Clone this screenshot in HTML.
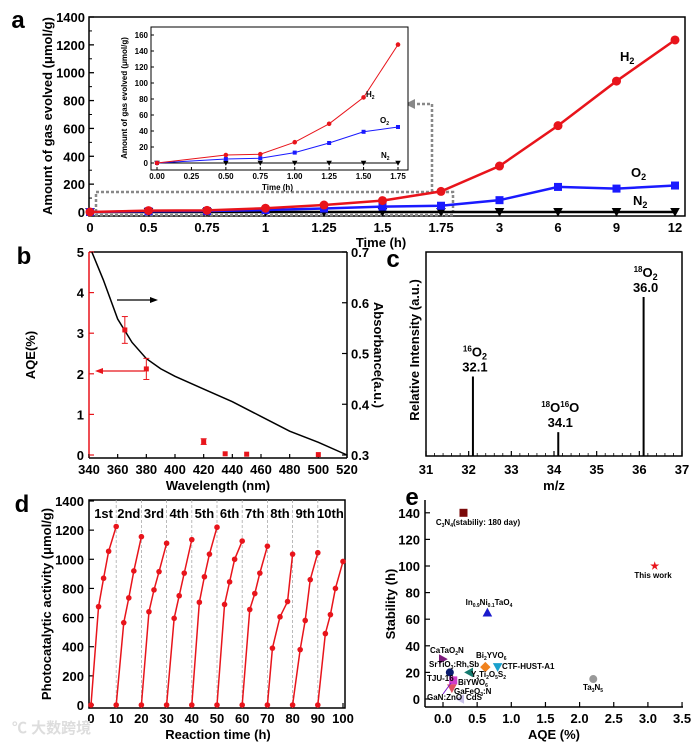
<!DOCTYPE html>
<html><head><meta charset="utf-8">
<style>
html,body{margin:0;padding:0;background:#fff;}
svg{display:block;font-family:"Liberation Sans","Noto Sans CJK SC",sans-serif;}
.t{font-weight:bold;font-size:13px;fill:#000;}
.s{font-weight:bold;font-size:8px;fill:#000;}
.pl{font-weight:bold;font-size:24px;fill:#000;}
</style></head>
<body>
<svg id="fig" width="692" height="743" viewBox="0 0 692 743" xmlns="http://www.w3.org/2000/svg">
<g id="ga"></g>
<g id="gb"></g>
<g id="gc"></g>
<g id="gd"></g>
<g id="ge"></g>
<text x="12" y="733" font-size="15" fill="#ddd" font-weight="bold">℃ 大数跨境</text>
</svg>
<script>
// ---------- data ----------
const aCats = ["0","0.5","0.75","1","1.25","1.5","1.75","3","6","9","12"];
const aH2 = [0,10,12,27,50,82,148,330,620,940,1235];
const aO2 = [0,5,7,14,25,39,45,85,180,168,190];
const aN2 = [0,0,0,0,0,0,0,0,0,0,0];
const aYTicks = [0,200,400,600,800,1000,1200,1400];
const inT = [0,0.5,0.75,1,1.25,1.5,1.75];
const inH2 = [0,10,11,26,49,82,148];
const inO2 = [0,5,6,13,25,39,45];
const inN2 = [0,0,0,0,0,0,0];
const inXTicks = [0,0.25,0.5,0.75,1,1.25,1.5,1.75];
const inYTicks = [0,20,40,60,80,100,120,140,160];
const bWave = [342,350,360,370,380,390,400,420,440,460,480,500,520];
const bAbs = [0.7,0.645,0.568,0.522,0.49,0.47,0.455,0.43,0.405,0.376,0.347,0.325,0.3];
const bAqeX = [365,380,420,435,450,500];
const bAqe = [3.08,2.12,0.33,0.03,0.02,0.01];
const bErr = [0.33,0.26,0.07,0,0,0];
const bXTicks = [340,360,380,400,420,440,460,480,500,520];
const bYTicks = [0,1,2,3,4,5];
const bAbsTicks = [0.3,0.4,0.5,0.6,0.7];
const cMz = [32.1,34.1,36.1];
const cInt = [0.5,0.15,1.0];
const cVals = ["32.1","34.1","36.0"];
const cXTicks = [31,32,33,34,35,36,37];
const dCycles = ["1st","2nd","3rd","4th","5th","6th","7th","8th","9th","10th"];
const dTimes = [[0,3,5,7,10],[10,13,15,17,20],[20,23,25,27,30],[30,33,35,37,40],[40,43,45,47,50],[50,53,55,57,60],[60,63,65,67,70],[70,72,75,78,80],[80,83,85,87,90],[90,93,95,97,100]];
const dVals = [[0,675,870,1055,1225],[0,565,735,920,1155],[0,640,790,915,1110],[0,595,750,905,1135],[0,705,880,1035,1220],[0,690,845,1000,1125],[0,655,765,905,1090],[0,390,605,710,1035],[0,380,580,860,1045],[0,490,620,800,985]];
const dXTicks = [0,10,20,30,40,50,60,70,80,90,100];
const dYTicks = [0,200,400,600,800,1000,1200,1400];
const eNames = ["C3N4","This work","In0.9Ni0.1TaO4","CaTaO2N","Bi2YVO6","CTF-HUST-A1","SrTiO3:Rh,Sb","Y2Ti2O5S2","Ta3N5","BiYWO6","GaFeO3:N","CdS"];
const eAqe = [0.3,3.1,0.65,0,0.62,0.8,0.1,0.38,2.2,0.15,0.13,0.25];
const eStab = [140,100,65,30,24,24,20,20,15,14,8,0];
const eXTicks = [0,0.5,1,1.5,2,2.5,3,3.5];
const eYTicks = [0,20,40,60,80,100,120,140];

// ---------- helpers ----------
const NS="http://www.w3.org/2000/svg";
function mk(p,tag,at,txt){const e=document.createElementNS(NS,tag);for(const k in at)e.setAttribute(k,at[k]);if(txt!==undefined)e.innerHTML=txt;p.appendChild(e);return e;}
function nm(e,n){


return e;}
function line(p,x1,y1,x2,y2,st,w,n,dash){const e=mk(p,'line',{x1,y1,x2,y2,stroke:st,'stroke-width':w||1});if(dash)e.setAttribute('stroke-dasharray',dash);return nm(e,n||'line');}
function txt(p,x,y,s,cls,anchor,n,extra){const e=mk(p,'text',Object.assign({x,y,class:cls,'text-anchor':anchor||'middle'},extra||{}),s);return nm(e,n||'label');}
function poly(p,pts,st,w,n){const e=mk(p,'polyline',{points:pts.map(q=>q.join(',')).join(' '),fill:'none',stroke:st,'stroke-width':w});return nm(e,n);}
function rect(p,x,y,w,h,n,st,sw){return nm(mk(p,'rect',{x,y,width:w,height:h,fill:'none',stroke:st||'#000','stroke-width':sw||1.5}),n);}
function marker(p,type,x,y,r,fill,n){let e;
 if(type==='c')e=mk(p,'circle',{cx:x,cy:y,r,fill});
 else if(type==='s')e=mk(p,'rect',{x:x-r,y:y-r,width:2*r,height:2*r,fill});
 else if(type==='tu')e=mk(p,'polygon',{points:`${x},${y-r*1.2} ${x-r*1.2},${y+r} ${x+r*1.2},${y+r}`,fill});
 else if(type==='td')e=mk(p,'polygon',{points:`${x},${y+r*1.2} ${x-r*1.2},${y-r} ${x+r*1.2},${y-r}`,fill});
 else if(type==='tl')e=mk(p,'polygon',{points:`${x-r*1.2},${y} ${x+r},${y-r*1.2} ${x+r},${y+r*1.2}`,fill});
 else if(type==='tr')e=mk(p,'polygon',{points:`${x+r*1.2},${y} ${x-r},${y-r*1.2} ${x-r},${y+r*1.2}`,fill});
 else if(type==='d')e=mk(p,'polygon',{points:`${x},${y-r*1.3} ${x+r*1.3},${y} ${x},${y+r*1.3} ${x-r*1.3},${y}`,fill});
 else if(type==='star'){let pts=[];for(let i=0;i<10;i++){const rr=i%2?r*0.45:r*1.2;const a=-Math.PI/2+i*Math.PI/5;pts.push((x+rr*Math.cos(a)).toFixed(1)+','+(y+rr*Math.sin(a)).toFixed(1));}e=mk(p,'polygon',{points:pts.join(' '),fill});}
 return nm(e,n);}

// ---------- panel a ----------
(function(){
const g=document.getElementById('ga');
const xa=i=>90+i*58.5, ya=v=>212-v*(195/1400);
txt(g,18,28,'a','pl','middle','panel-a-letter');
rect(g,89,17,596,199,'panel-a-frame');
aYTicks.forEach(v=>{line(g,89,ya(v),94,ya(v),'#000',1.3,'y-tick');txt(g,85,ya(v)+5,v,'t','end','y-tick-label',{'font-size':'12'});});
aYTicks.slice(0,-1).forEach(v=>line(g,89,ya(v+100),92,ya(v+100),'#000',1,'y-minor-tick'));
aCats.forEach((c,i)=>{line(g,xa(i),216,xa(i),211,'#000',1.3,'x-tick');txt(g,xa(i),232,c,'t','middle','x-tick-label');});
txt(g,381,247,'Time (h)','t','middle','x-axis-title');
txt(g,0,0,'Amount of gas evolved (μmol/g)','t','middle','y-axis-title',{transform:'translate(52,116) rotate(-90)','font-size':'14'});
// dashed box and arrow
nm(mk(g,'rect',{x:96,y:192,width:357,height:23,fill:'none',stroke:'#888','stroke-width':2.5,'stroke-dasharray':'3,2'}),'zoom-region-box');
nm(mk(g,'polyline',{points:'432,192 432,104 416,104',fill:'none',stroke:'#888','stroke-width':2.5,'stroke-dasharray':'3,2'}),'zoom-arrow');
nm(mk(g,'polygon',{points:'405,104 415,99 415,109',fill:'#888'}),'zoom-arrowhead');
// series
poly(g,aN2.map((v,i)=>[xa(i),ya(v)]),'#000',2.5,'n2-line');
aN2.forEach((v,i)=>marker(g,'td',xa(i),ya(v),4,'#000','n2-point'));
poly(g,aO2.map((v,i)=>[xa(i),ya(v)]),'#1a1aff',2.5,'o2-line');
aO2.forEach((v,i)=>marker(g,'s',xa(i),ya(v),4,'#1a1aff','o2-point'));
poly(g,aH2.map((v,i)=>[xa(i),ya(v)]),'#e8141b',2.5,'h2-line');
aH2.forEach((v,i)=>marker(g,'c',xa(i),ya(v),4.5,'#e8141b','h2-point'));
txt(g,620,61,'H<tspan font-size="9" dy="3">2</tspan>','t','start','h2-label',{'font-size':'14'});
txt(g,631,177,'O<tspan font-size="9" dy="3">2</tspan>','t','start','o2-label',{'font-size':'14'});
txt(g,633,205,'N<tspan font-size="9" dy="3">2</tspan>','t','start','n2-label',{'font-size':'14'});
// inset
const xi=t=>157+t*(241/1.75), yi=v=>163-v*(128/160);
nm(mk(g,'rect',{x:151,y:27,width:257,height:143,fill:'#fff',stroke:'#000','stroke-width':1}),'inset-frame');
inYTicks.forEach(v=>{line(g,151,yi(v),154,yi(v),'#000',1,'inset-y-tick');txt(g,148,yi(v)+3,v,'s','end','inset-y-tick-label');});
inXTicks.forEach(t=>{line(g,xi(t),170,xi(t),167,'#000',1,'inset-x-tick');txt(g,xi(t),179,t.toFixed(2),'s','middle','inset-x-tick-label');});
txt(g,xi(0.875),190,'Time (h)','s','middle','inset-x-axis-title',{'font-size':'9'});
txt(g,0,0,'Amount of gas evolved (μmol/g)','s','middle','inset-y-axis-title',{transform:'translate(127,98) rotate(-90)','font-size':'9'});
poly(g,inN2.map((v,i)=>[xi(inT[i]),yi(v)]),'#000',1,'inset-n2-line');
inN2.forEach((v,i)=>marker(g,'td',xi(inT[i]),yi(v),2.3,'#000','inset-n2-point'));
poly(g,inO2.map((v,i)=>[xi(inT[i]),yi(v)]),'#1a1aff',1,'inset-o2-line');
inO2.forEach((v,i)=>marker(g,'s',xi(inT[i]),yi(v),2,'#1a1aff','inset-o2-point'));
poly(g,inH2.map((v,i)=>[xi(inT[i]),yi(v)]),'#e8141b',1,'inset-h2-line');
inH2.forEach((v,i)=>marker(g,'c',xi(inT[i]),yi(v),2.3,'#e8141b','inset-h2-point'));
txt(g,366,97,'H<tspan font-size="5" dy="2">2</tspan>','s','start','inset-h2-label');
txt(g,380,123,'O<tspan font-size="5" dy="2">2</tspan>','s','start','inset-o2-label');
txt(g,381,158,'N<tspan font-size="5" dy="2">2</tspan>','s','start','inset-n2-label');
})();

// ---------- panel b ----------
(function(){
const g=document.getElementById('gb');
const xb=w=>89+(w-340)*(258/180), yb=a=>455-a*(203/5), yab=v=>455-(v-0.3)*(203/0.4);
txt(g,24,264,'b','pl','middle','panel-b-letter');
line(g,89,252,347,252,'#000',1.5,'top-axis');
line(g,89,458,347,458,'#000',1.5,'x-axis');
line(g,347,252,347,458,'#000',1.5,'right-axis');
line(g,89,252,89,458,'#e8141b',1.5,'left-axis');
bXTicks.forEach(w=>{line(g,xb(w),458,xb(w),454,'#000',1.2,'x-tick');txt(g,xb(w),474,w,'t','middle','x-tick-label');});
bYTicks.forEach(a=>{line(g,89,yb(a),94,yb(a),'#e8141b',1.2,'aqe-tick');txt(g,84,yb(a)+5,a,'t','end','aqe-tick-label',{fill:'#e8141b'});});
bAbsTicks.forEach(v=>{line(g,347,yab(v),342,yab(v),'#000',1.2,'abs-tick');txt(g,351,yab(v)+5,v.toFixed(1),'t','start','abs-tick-label');});
txt(g,218,490,'Wavelength (nm)','t','middle','x-axis-title',{'font-size':'14'});
txt(g,0,0,'AQE(%)','t','middle','aqe-axis-title',{transform:'translate(35,355) rotate(-90)','font-size':'15',fill:'#e8141b'});
txt(g,0,0,'Absorbance(a.u.)','t','middle','abs-axis-title',{transform:'translate(374,355) rotate(90)','font-size':'14'});
poly(g,bWave.map((w,i)=>[xb(w),yab(bAbs[i])]),'#000',1.5,'absorbance-curve');
bAqeX.forEach((w,i)=>{const x=xb(w);
 if(bErr[i]>0){line(g,x,yb(bAqe[i]+bErr[i]),x,yb(bAqe[i]-bErr[i]),'#e8141b',1,'error-bar');
  line(g,x-3,yb(bAqe[i]+bErr[i]),x+3,yb(bAqe[i]+bErr[i]),'#e8141b',1,'error-cap');
  line(g,x-3,yb(bAqe[i]-bErr[i]),x+3,yb(bAqe[i]-bErr[i]),'#e8141b',1,'error-cap');}
 marker(g,'s',x,yb(bAqe[i]),2.5,'#e8141b','aqe-point');});
line(g,117,300,152,300,'#000',1.3,'abs-arrow');
nm(mk(g,'polygon',{points:'158,300 150,297 150,303',fill:'#000'}),'abs-arrowhead');
line(g,101,371,145,371,'#e8141b',1.3,'aqe-arrow');
nm(mk(g,'polygon',{points:'95,371 103,368 103,374',fill:'#e8141b'}),'aqe-arrowhead');
})();

// ---------- panel c ----------
(function(){
const g=document.getElementById('gc');
const xc=m=>426+(m-31)*(256/6), yc=v=>456-v*159;
txt(g,393,267,'c','pl','middle','panel-c-letter');
rect(g,426,252,256,204,'panel-c-frame');
cXTicks.forEach(m=>{line(g,xc(m),456,xc(m),451,'#000',1.2,'x-tick');txt(g,xc(m),474,m,'t','middle','x-tick-label');});
cXTicks.slice(0,-1).forEach(m=>{for(let k=1;k<5;k++)line(g,xc(m+k/5),456,xc(m+k/5),453,'#000',0.8,'x-minor-tick');});
txt(g,554,490,'m/z','t','middle','x-axis-title',{'font-size':'14'});
txt(g,0,0,'Relative Intensity (a.u.)','t','middle','y-axis-title',{transform:'translate(419,350) rotate(-90)','font-size':'14'});
const labs=['<tspan font-size="8" dy="-5">16</tspan><tspan dy="5">O</tspan><tspan font-size="9" dy="3">2</tspan>','<tspan font-size="8" dy="-5">18</tspan><tspan dy="5">O</tspan><tspan font-size="8" dy="-5">16</tspan><tspan dy="5">O</tspan>','<tspan font-size="8" dy="-5">18</tspan><tspan dy="5">O</tspan><tspan font-size="9" dy="3">2</tspan>'];
cMz.forEach((m,i)=>{const x=xc(m),y=yc(cInt[i]);
 line(g,x,456,x,y,'#000',2,'peak-'+cVals[i]);
 txt(g,x+2,y-5,cVals[i],'t','middle','peak-value');
 txt(g,x+2,y-20,labs[i],'t','middle','peak-species',{fill:'#e8141b','font-size':'14'});});
})();

// ---------- panel d ----------
(function(){
const g=document.getElementById('gd');
const xd=t=>91+t*2.52, yd=v=>705-v*(204/1400);
txt(g,22,512,'d','pl','middle','panel-d-letter');
rect(g,89,500,256,208,'panel-d-frame');
dYTicks.forEach(v=>{line(g,89,yd(v),94,yd(v),'#000',1.2,'y-tick');txt(g,84,yd(v)+5,v,'t','end','y-tick-label');});
dXTicks.forEach(t=>{line(g,xd(t),708,xd(t),703,'#000',1.2,'x-tick');txt(g,xd(t),723,t,'t','middle','x-tick-label');});
dXTicks.slice(1,-1).forEach(t=>line(g,xd(t),500,xd(t),708,'#aaa',0.8,'cycle-divider','3,2'));
txt(g,218,739,'Reaction time (h)','t','middle','x-axis-title',{'font-size':'14'});
txt(g,0,0,'Photocatalytic activity (μmol/g)','t','middle','y-axis-title',{transform:'translate(51,604) rotate(-90)','font-size':'14'});
dCycles.forEach((c,k)=>{
 txt(g,xd(k*10+5),518,c,'t','middle','cycle-label');
 poly(g,dTimes[k].map((t,i)=>[xd(t),yd(dVals[k][i])]),'#e8141b',1.5,'cycle-line-'+(k+1));
 dTimes[k].forEach((t,i)=>marker(g,'c',xd(t),yd(dVals[k][i]),2.8,'#e8141b','cycle-point'));
});
})();

// ---------- panel e ----------
(function(){
const g=document.getElementById('ge');
const xe=a=>443+a*68.3, ye=s=>699-s*1.33;
txt(g,412,505,'e','pl','middle','panel-e-letter');
line(g,425,500,425,707,'#000',1.5,'y-axis');
line(g,425,707,683,707,'#000',1.5,'x-axis');
eYTicks.forEach(s=>{line(g,425,ye(s),430,ye(s),'#000',1.2,'y-tick');txt(g,420,ye(s)+5,s,'t','end','y-tick-label');});
eXTicks.forEach(a=>{line(g,xe(a),707,xe(a),702,'#000',1.2,'x-tick');txt(g,xe(a),723,a.toFixed(1),'t','middle','x-tick-label');});
txt(g,554,739,'AQE (%)','t','middle','x-axis-title',{'font-size':'14'});
txt(g,0,0,'Stability (h)','t','middle','y-axis-title',{transform:'translate(395,604) rotate(-90)','font-size':'14'});
const styles=[['s','#7b0a0a'],['star','#e8141b'],['tu','#1a1acc'],['tr','#7a1a7a'],['d','#f0821e'],['td','#1aa0cc'],['c','#0a1a6e'],['tl','#147a6e'],['c','#999'],['s','#d03cc8'],['td','#e05060'],['tl','#c8c0e8']];
eNames.forEach((n,i)=>marker(g,styles[i][0],xe(eAqe[i]),ye(eStab[i]),4,styles[i][1],'point-'+n.toLowerCase().replace(/[^a-z0-9]+/g,'-')));
const L=(x,y,s,c,a,n)=>txt(g,x,y,s,'s',a||'start',n,{fill:c,'font-size':'7.5'});
L(478,525,'C<tspan font-size="5" dy="2">3</tspan><tspan dy="-2">N</tspan><tspan font-size="5" dy="2">4</tspan><tspan dy="-2">(stabiliy: 180 day)</tspan>','#7b0a0a','middle','c3n4-label');
L(653,578,'This work','#e8141b','middle','this-work-label');
L(489,605,'In<tspan font-size="5" dy="2">0.9</tspan><tspan dy="-2">Ni</tspan><tspan font-size="5" dy="2">0.1</tspan><tspan dy="-2">TaO</tspan><tspan font-size="5" dy="2">4</tspan>','#1a1acc','middle','in-ni-tao4-label');
L(430,653,'CaTaO<tspan font-size="5" dy="2">2</tspan><tspan dy="-2">N</tspan>','#7a1a7a','start','catao2n-label');
L(476,658,'Bi<tspan font-size="5" dy="2">2</tspan><tspan dy="-2">YVO</tspan><tspan font-size="5" dy="2">6</tspan>','#f0821e','start','bi2yvo6-label');
L(502,669,'CTF-HUST-A1','#1aa0cc','start','ctf-hust-a1-label');
L(429,667,'SrTiO<tspan font-size="5" dy="2">3</tspan><tspan dy="-2">:Rh,Sb</tspan>','#0a1a6e','start','srtio3-label');
L(471,677,'Y<tspan font-size="5" dy="2">2</tspan><tspan dy="-2">Ti</tspan><tspan font-size="5" dy="2">2</tspan><tspan dy="-2">O</tspan><tspan font-size="5" dy="2">5</tspan><tspan dy="-2">S</tspan><tspan font-size="5" dy="2">2</tspan>','#147a6e','start','y2ti2o5s2-label');
L(593,690,'Ta<tspan font-size="5" dy="2">3</tspan><tspan dy="-2">N</tspan><tspan font-size="5" dy="2">5</tspan>','#888','middle','ta3n5-label');
L(427,681,'TJU-16','#d08a2a','start','tju-16-label');
L(458,685,'BiYWO<tspan font-size="5" dy="2">6</tspan>','#d03cc8','start','biywo6-label');
L(454,694,'GaFeO<tspan font-size="5" dy="2">3</tspan><tspan dy="-2">:N</tspan>','#e05060','start','gafeo3n-label');
L(427,700,'GaN:ZnO','#7a1acc','start','ganzno-label');
L(466,700,'CdS','#c8c0e8','start','cds-label');
line(g,443,694,451,683,'#7a1acc',1,'ganzno-arrow');
})();
</script>
</body></html>
